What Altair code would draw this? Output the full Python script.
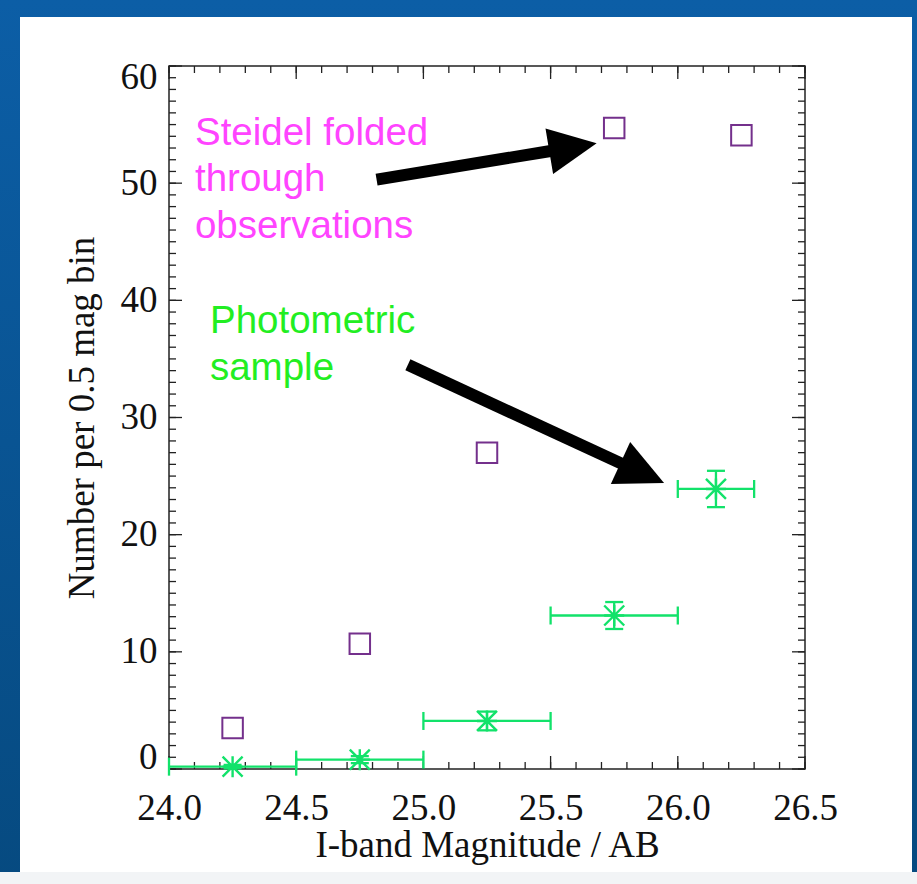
import altair as alt
import pandas as pd

# Steidel model counts folded through the observations (purple squares)
steidel_mag = [24.25, 24.75, 25.25, 25.75, 26.25]
steidel_n = [3.5, 10.7, 27.0, 54.7, 54.1]

# Photometric sample (green asterisks with bin-width and Poisson error bars)
phot_mag = [24.25, 24.75, 25.25, 25.75, 26.15]
phot_n = [0.2, 0.8, 4.1, 13.1, 23.9]
phot_err = [0.15, 0.3, 0.8, 1.15, 1.55]
bin_lo = [24.0, 24.5, 25.0, 25.5, 26.0]
bin_hi = [24.5, 25.0, 25.5, 26.0, 26.3]

# Axis ticks
x_major = [24.0, 24.5, 25.0, 25.5, 26.0, 26.5]
x_minor = [round(24.0 + 0.1 * i, 1) for i in range(26)]
y_major = [0, 10, 20, 30, 40, 50, 60]
y_minor = list(range(61))

# Annotation arrows: tail, end of shaft, tip, heading (deg clockwise)
arrow_tail_mag = [24.816, 24.939]
arrow_tail_n = [50.3, 34.5]
arrow_base_mag = [25.518, 25.796]
arrow_base_n = [52.81, 25.89]
arrow_tip_mag = [25.681, 25.946]
arrow_tip_n = [53.4, 24.4]
arrow_angle = [350.5, 24.8]

# Annotation labels
label_text = ["Steidel folded\nthrough\nobservations", "Photometric\nsample"]
label_mag = [24.102, 24.161]
label_n = [53.26, 37.2]
label_color = ["#ff44ff", "#22ee22"]

W, H = 636, 703
PAD_L, PAD_T = 169, 66
CANVAS_W, CANVAS_H = 917, 884

SERIF = "Liberation Serif"
SANS = "Liberation Sans"
GREEN = "#12e26a"
PURPLE = "#74308c"
INK = "#222222"

xscale = alt.Scale(domain=[24.0, 26.5], nice=False, zero=False)
yscale = alt.Scale(domain=[0, 60], nice=False, zero=False)

x_axis = alt.Axis(
    values=x_major, format=".1f", ticks=False, domain=False, grid=False,
    labelFont=SERIF, labelFontSize=37, labelColor="#111111", labelPadding=21,
    labelFlush=False, labelOverlap=False,
    title="I-band Magnitude / AB", titleFont=SERIF, titleFontSize=37,
    titleFontWeight="normal", titleColor="#111111", titlePadding=1, zindex=5,
)
y_axis = alt.Axis(
    values=y_major, format="d", ticks=False, domain=False, grid=False,
    labelFont=SERIF, labelFontSize=37, labelColor="#111111", labelPadding=12,
    labelFlush=True, labelFlushOffset=7, labelOverlap=False,
    title="Number per 0.5 mag bin", titleFont=SERIF, titleFontSize=37,
    titleFontWeight="normal", titleColor="#111111", titlePadding=19, zindex=5,
)


def X(field):
    return alt.X(field, type="quantitative", scale=xscale, axis=x_axis)


def Y(field):
    return alt.Y(field, type="quantitative", scale=yscale, axis=y_axis)


one = pd.DataFrame({"k": [0]})

# Slide background and white panel
backdrop = alt.Chart(one).mark_rect(
    color=alt.Gradient(
        gradient="linear",
        stops=[alt.GradientStop(color="#0c5ea6", offset=0),
               alt.GradientStop(color="#064a80", offset=1)],
        x1=0, x2=0, y1=0, y2=1,
    )
).encode(
    x=alt.value(-PAD_L), x2=alt.value(CANVAS_W - PAD_L),
    y=alt.value(-PAD_T), y2=alt.value(CANVAS_H - PAD_T),
)
panel = alt.Chart(one).mark_rect(color="white").encode(
    x=alt.value(20 - PAD_L), x2=alt.value(912 - PAD_L),
    y=alt.value(17 - PAD_T), y2=alt.value(872 - PAD_T),
)
bottom_strip = alt.Chart(one).mark_rect(color="#f2f4f6").encode(
    x=alt.value(-PAD_L), x2=alt.value(CANVAS_W - PAD_L),
    y=alt.value(872 - PAD_T), y2=alt.value(CANVAS_H - PAD_T),
)
frame = alt.Chart(one).mark_rect(fill=None, stroke=INK, strokeWidth=1.5).encode(
    x=alt.value(0), x2=alt.value(W), y=alt.value(0), y2=alt.value(H),
)

# Inward-pointing tick marks on all four sides
tick_layers = []
for vals, length in [(x_minor, 7), (x_major, 13)]:
    d = pd.DataFrame({"m": vals})
    tick_layers.append(alt.Chart(d).mark_rule(color=INK, strokeWidth=1.3).encode(
        x=X("m"), y=alt.value(H), y2=alt.value(H - length)))
    tick_layers.append(alt.Chart(d).mark_rule(color=INK, strokeWidth=1.3).encode(
        x=X("m"), y=alt.value(0), y2=alt.value(length)))
for vals, length in [(y_minor, 7), (y_major, 13)]:
    d = pd.DataFrame({"n": vals})
    tick_layers.append(alt.Chart(d).mark_rule(color=INK, strokeWidth=1.3).encode(
        y=Y("n"), x=alt.value(0), x2=alt.value(length)))
    tick_layers.append(alt.Chart(d).mark_rule(color=INK, strokeWidth=1.3).encode(
        y=Y("n"), x=alt.value(W), x2=alt.value(W - length)))

steidel = pd.DataFrame({"mag": steidel_mag, "n": steidel_n})
phot = pd.DataFrame({
    "mag": phot_mag, "n": phot_n, "lo": bin_lo, "hi": bin_hi,
    "nlo": [a - b for a, b in zip(phot_n, phot_err)],
    "nhi": [a + b for a, b in zip(phot_n, phot_err)],
})

squares = alt.Chart(steidel).mark_point(
    shape="square", size=420, filled=False, color=PURPLE, strokeWidth=2, opacity=1
).encode(x=X("mag"), y=Y("n"))

hbar = alt.Chart(phot).mark_rule(color=GREEN, strokeWidth=2.3).encode(
    x=X("lo"), x2="hi", y=Y("n"))
vbar = alt.Chart(phot).mark_rule(color=GREEN, strokeWidth=2.3).encode(
    x=X("mag"), y=Y("nlo"), y2="nhi")
cap_style = dict(color=GREEN, thickness=2.3, size=18, opacity=1)
cap_lo = alt.Chart(phot).mark_tick(orient="vertical", **cap_style).encode(x=X("lo"), y=Y("n"))
cap_hi = alt.Chart(phot).mark_tick(orient="vertical", **cap_style).encode(x=X("hi"), y=Y("n"))
cap_bot = alt.Chart(phot).mark_tick(orient="horizontal", **cap_style).encode(x=X("mag"), y=Y("nlo"))
cap_top = alt.Chart(phot).mark_tick(orient="horizontal", **cap_style).encode(x=X("mag"), y=Y("nhi"))
stars = alt.Chart(phot).mark_point(
    shape="M-1,-1L1,1M-1,1L1,-1M0,-1.05L0,1.05M-1,0L1,0",
    size=400, filled=False, color=GREEN, strokeWidth=2.4, opacity=1,
).encode(x=X("mag"), y=Y("n"))

arrows = pd.DataFrame({
    "tx": arrow_tail_mag, "ty": arrow_tail_n,
    "bx": arrow_base_mag, "by": arrow_base_n,
    "px": arrow_tip_mag, "py": arrow_tip_n, "ang": arrow_angle,
})
shafts = alt.Chart(arrows).mark_rule(color="black", strokeWidth=12, strokeCap="butt").encode(
    x=X("tx"), y=Y("ty"), x2="bx", y2="by")
heads = alt.Chart(arrows).mark_point(
    shape="M0,0L-2,-0.96L-2,0.96Z", size=2304, filled=True, color="black", opacity=1
).encode(x=X("px"), y=Y("py"), angle=alt.Angle("ang:Q", scale=None))

labels = pd.DataFrame({"t": label_text, "mag": label_mag, "n": label_n, "c": label_color})
notes = alt.Chart(labels).mark_text(
    font=SANS, fontSize=38.5, align="left", baseline="alphabetic",
    lineBreak="\n", lineHeight=46.5,
).encode(x=X("mag"), y=Y("n"), text="t:N", color=alt.Color("c:N", scale=None))

chart = alt.layer(
    backdrop, panel, bottom_strip, *tick_layers, frame,
    squares, hbar, vbar, cap_lo, cap_hi, cap_bot, cap_top, stars,
    shafts, heads, notes,
).properties(
    width=W, height=H,
    autosize=alt.AutoSizeParams(type="none"),
    padding={"left": PAD_L, "top": PAD_T, "right": CANVAS_W - PAD_L - W,
             "bottom": CANVAS_H - PAD_T - H},
    background="#0a5596",
).configure_view(stroke=None).configure_axis(grid=False)

chart.save("out.html", embed_options={"renderer": "svg", "actions": False})
